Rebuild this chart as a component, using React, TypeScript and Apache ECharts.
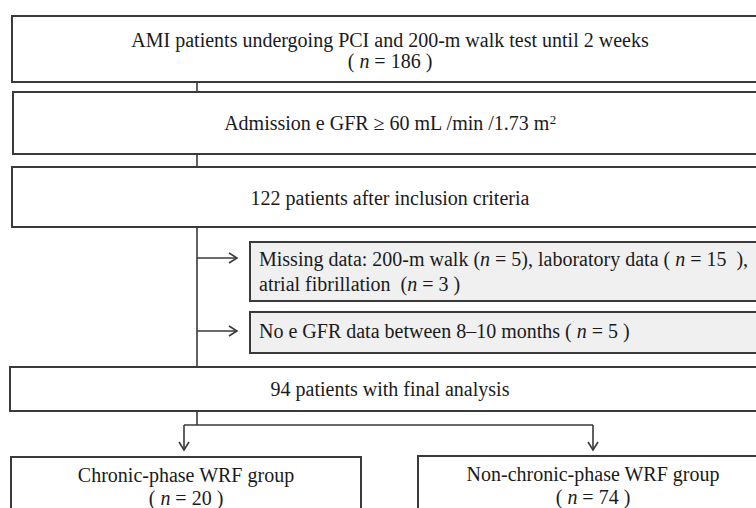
import React, { useEffect, useRef } from "react";
import * as echarts from "echarts";

// Flow stages (main column)
const mainStages = [
  ["AMI patients undergoing PCI and 200-m walk test until 2 weeks", "( {i|n} = 186 )"],
  ["Admission e GFR ≥ 60 mL /min /1.73 m{s|2}"],
  ["122 patients after inclusion criteria"],
  ["94 patients with final analysis"],
];
// Exclusions
const exclusions = [
  ["Missing data: 200-m walk ({i|n} = 5), laboratory data ( {i|n} = 15  ),", "atrial fibrillation  ({i|n} = 3 )"],
  ["No e GFR data between 8–10 months ( {i|n} = 5 )"],
];
// Final groups
const groupNames = ["Chronic-phase WRF group", "Non-chronic-phase WRF group"];
const groupCounts = [20, 74];

const LINE = "#3a3a3a";
const TXT = "#1a1a1a";
const FONT = "Liberation Serif, Times New Roman, serif";
const FS = 20;

function txt(x: number, y: number, text: string, align: string = "center") {
  return {
    type: "text",
    x,
    y,
    style: {
      text,
      fill: TXT,
      fontFamily: FONT,
      fontSize: FS,
      align,
      verticalAlign: "middle",
      rich: {
        i: { fontStyle: "italic", fontFamily: FONT, fontSize: FS, fill: TXT },
        s: { fontFamily: FONT, fontSize: 13, fill: TXT, verticalAlign: "top", padding: [0, 0, 8, 0] },
      },
    },
  };
}
function box(x: number, y: number, w: number, h: number, fill = "#ffffff") {
  return {
    type: "rect",
    shape: { x, y, width: w, height: h },
    style: { fill, stroke: LINE, lineWidth: 2 },
  };
}
function line(x1: number, y1: number, x2: number, y2: number) {
  return {
    type: "line",
    shape: { x1, y1, x2, y2 },
    style: { stroke: LINE, lineWidth: 1.6 },
  };
}
function arrowRight(x: number, y: number) {
  return {
    type: "polyline",
    shape: { points: [[x - 8, y - 5], [x, y], [x - 8, y + 5]] },
    style: { stroke: LINE, lineWidth: 1.6, fill: "none" },
  };
}
function arrowDown(x: number, y: number) {
  return {
    type: "polyline",
    shape: { points: [[x - 5, y - 8], [x, y], [x + 5, y - 8]] },
    style: { stroke: LINE, lineWidth: 1.6, fill: "none" },
  };
}

export default function App() {
  const ref = useRef<HTMLDivElement>(null);
  useEffect(() => {
    if (!ref.current) return;
    const chart = echarts.init(ref.current, null, { renderer: "svg" });
    const cx = 390;
    const trunk = 197;
    const g: any[] = [];
    // connectors
    g.push(line(trunk, 82, trunk, 92));
    g.push(line(trunk, 154, trunk, 167));
    g.push(line(trunk, 227, trunk, 367));
    g.push(line(trunk, 258, 237, 258));
    g.push(arrowRight(237, 258));
    g.push(line(trunk, 331, 237, 331));
    g.push(arrowRight(237, 331));
    g.push(line(trunk, 411, trunk, 425));
    g.push(line(184, 425, 593, 425));
    g.push(line(184, 425, 184, 450));
    g.push(arrowDown(184, 450));
    g.push(line(593, 425, 593, 450));
    g.push(arrowDown(593, 450));
    // main boxes
    g.push(box(12, 16, 770, 66));
    g.push(txt(cx, 40, mainStages[0][0]));
    g.push(txt(cx, 61, mainStages[0][1]));
    g.push(box(13, 92, 770, 62));
    g.push(txt(cx, 123, mainStages[1][0]));
    g.push(box(12, 167, 770, 60));
    g.push(txt(cx, 198, mainStages[2][0]));
    g.push(box(250, 242, 530, 59, "#f0f0f0"));
    g.push(txt(259, 259, exclusions[0][0], "left"));
    g.push(txt(259, 284, exclusions[0][1], "left"));
    g.push(box(250, 312, 530, 41, "#f0f0f0"));
    g.push(txt(259, 331, exclusions[1][0], "left"));
    g.push(box(10, 367, 770, 44));
    g.push(txt(cx, 389, mainStages[3][0]));
    // groups
    g.push(box(11, 457, 350, 70));
    g.push(txt(186, 475, groupNames[0]));
    g.push(txt(186, 498, `( {i|n} = ${groupCounts[0]} )`));
    g.push(box(418, 456, 360, 70));
    g.push(txt(593, 474, groupNames[1]));
    g.push(txt(593, 497, `( {i|n} = ${groupCounts[1]} )`));

    chart.setOption({
      animation: false,
      backgroundColor: "#ffffff",
      graphic: g,
    });
    return () => chart.dispose();
  }, []);
  return (
    <div
      ref={ref}
      style={{ position: "fixed", left: 0, top: 0, width: 756, height: 508 }}
    />
  );
}
